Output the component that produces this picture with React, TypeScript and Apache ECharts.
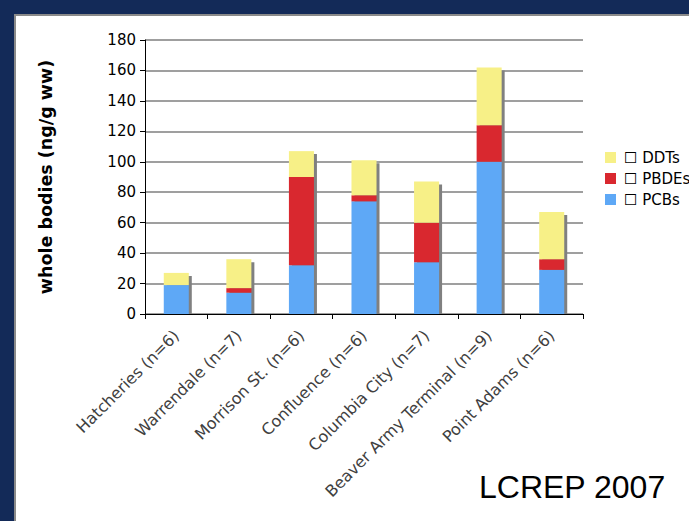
import React, { useEffect, useRef } from "react";
import * as echarts from "echarts";

const categories = [
  "Hatcheries (n=6)",
  "Warrendale (n=7)",
  "Morrison St. (n=6)",
  "Confluence (n=6)",
  "Columbia City (n=7)",
  "Beaver Army Terminal (n=9)",
  "Point Adams (n=6)",
];
const pcbs = [19, 14, 32, 74, 34, 100, 29];
const pbdes = [0, 3, 58, 4, 26, 24, 7];
const ddts = [8, 19, 17, 23, 27, 38, 31];
const yTicks = [0, 20, 40, 60, 80, 100, 120, 140, 160, 180];

const FONT = "DejaVu Sans";

export default function App() {
  const ref = useRef<HTMLDivElement>(null);
  useEffect(() => {
    if (!ref.current) return;
    const chart = echarts.init(ref.current, null, { renderer: "svg" });
    const totals = categories.map((_, i) => pcbs[i] + pbdes[i] + ddts[i]);
    const barFrac = 0.4;
    chart.setOption({
      animation: false,
      backgroundColor: "#132a58",
      graphic: [
        {
          type: "rect",
          z: -10,
          shape: { x: 15, y: 15, width: 700, height: 520 },
          style: { fill: "#ffffff", stroke: "#8a8a8a", lineWidth: 2 },
        },
        {
          type: "text",
          left: 479,
          top: 471,
          style: {
            text: "LCREP 2007",
            font: "32px 'Liberation Sans'",
            fill: "#000000",
          },
        },
      ],
      legend: {
        orient: "vertical",
        left: 600,
        top: 145,
        itemWidth: 11,
        itemHeight: 11,
        itemGap: 6,
        icon: "rect",
        data: ["DDTs", "PBDEs", "PCBs"],
        formatter: (name: string) => "\u2610 " + name,
        textStyle: { fontFamily: FONT, fontSize: 15, lineHeight: 15, color: "#000", padding: [0, 0, 0, 3] },
      },
      grid: { left: 145, right: 106, top: 40, bottom: 207, containLabel: false },
      xAxis: {
        type: "category",
        data: categories,
        axisLine: { lineStyle: { color: "#000", width: 1 } },
        axisTick: { show: true, length: 5, lineStyle: { color: "#000" }, alignWithLabel: false },
        axisLabel: {
          rotate: 45,
          interval: 0,
          margin: 19,
          fontFamily: FONT,
          fontSize: 16,
          color: "#404040",
        },
      },
      yAxis: {
        type: "value",
        min: 0,
        max: 180,
        interval: 20,
        name: "whole bodies (ng/g ww)",
        nameLocation: "middle",
        nameGap: 90,
        nameRotate: 90,
        nameTextStyle: { fontFamily: FONT, fontSize: 17.5, fontWeight: "bold", color: "#000" },
        axisLine: { show: true, lineStyle: { color: "#000" } },
        axisTick: { show: true, length: 5, lineStyle: { color: "#000" } },
        axisLabel: { fontFamily: FONT, fontSize: 15, color: "#000", margin: 9 },
        splitLine: { show: true, lineStyle: { color: "#7f7f7f", width: 1.5 } },
      },
      series: [
        {
          name: "shadow",
          type: "custom",
          z: 1,
          silent: true,
          data: totals.map((t, i) => [i, t]),
          renderItem: (params: any, api: any) => {
            const idx = api.value(0);
            const top = api.coord([idx, api.value(1)]);
            const base = api.coord([idx, 0]);
            const w = api.size([1, 0])[0] * barFrac;
            return {
              type: "rect",
              shape: { x: top[0] - w / 2 + 3, y: top[1] + 3, width: w, height: base[1] - top[1] - 3 },
              style: { fill: "#808080" },
            };
          },
        },
        {
          name: "PCBs",
          type: "bar",
          stack: "t",
          z: 2,
          barWidth: "40%",
          data: pcbs,
          itemStyle: { color: "#5ea8f6" },
        },
        {
          name: "PBDEs",
          type: "bar",
          stack: "t",
          z: 2,
          barWidth: "40%",
          data: pbdes,
          itemStyle: { color: "#d9282f" },
        },
        {
          name: "DDTs",
          type: "bar",
          stack: "t",
          z: 2,
          barWidth: "40%",
          data: ddts,
          itemStyle: { color: "#f7f087" },
        },
      ],
    });
    return () => chart.dispose();
  }, []);
  return (
    <div
      ref={ref}
      style={{ position: "fixed", left: 0, top: 0, width: 689, height: 521 }}
    />
  );
}
